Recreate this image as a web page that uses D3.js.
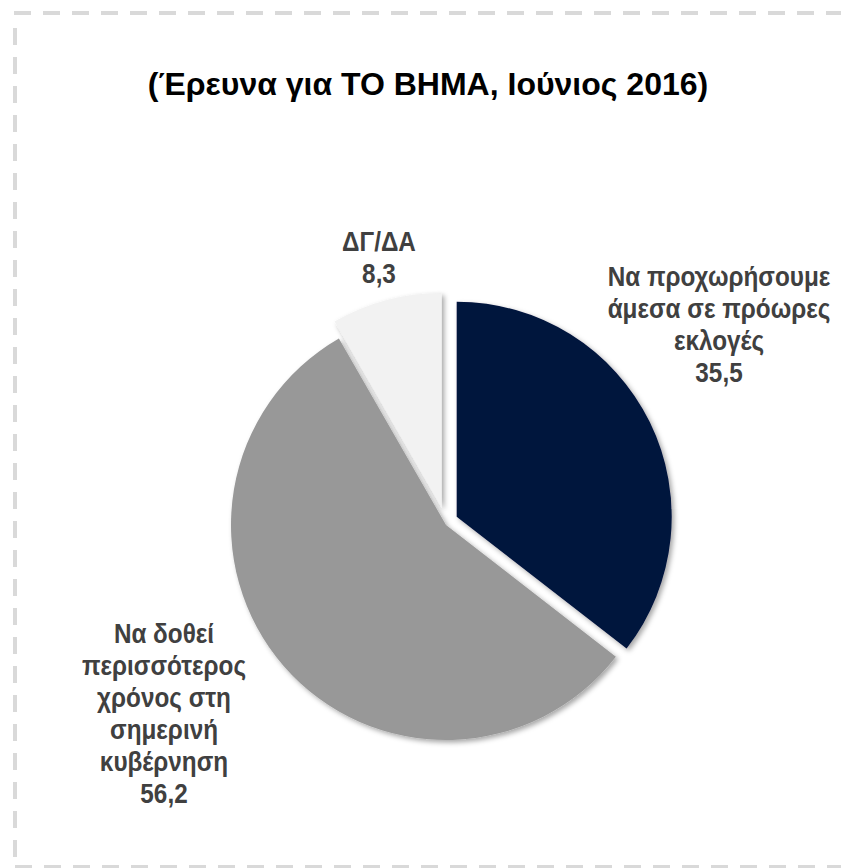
<!DOCTYPE html>
<html>
<head>
<meta charset="utf-8">
<script src="https://cdn.jsdelivr.net/npm/d3@7"></script>
<style>
  html, body { margin: 0; padding: 0; background: #fff; }
  svg { display: block; }
</style>
</head>
<body>
<svg id="chart" width="841" height="868"></svg>
<script>
const title = "(Έρευνα για ΤΟ ΒΗΜΑ, Ιούνιος 2016)";
const categories = [
    "Να προχωρήσουμε άμεσα σε πρόωρες εκλογές",
    "Να δοθεί περισσότερος χρόνος στη σημερινή κυβέρνηση",
    "ΔΓ/ΔΑ"
];
const labelLines = [
    ["Να προχωρήσουμε", "άμεσα σε πρόωρες", "εκλογές"],
    ["Να δοθεί", "περισσότερος", "χρόνος στη", "σημερινή", "κυβέρνηση"],
    ["ΔΓ/ΔΑ"]
];
const values = [35.5, 56.2, 8.3];
const colors = ["#00133d", "#989898", "#f2f2f2"];

const center = { x: 450, y: 517 };
const radius = 215;
const explode = [{ dx: 6.7, dy: -0.3 }, { dx: -4, dy: 8 }, { dx: -8.3, dy: -9 }];
const labelCenter = [{ x: 719, y: 324 }, { x: 164, y: 713 }, { x: 379, y: 257 }];
const lineHeight = 32;
const labelSqueeze = 0.9;

let svg = d3.select("#chart");

let defs = svg.append("defs");
let filter = defs.append("filter")
    .attr("id", "shadow")
    .attr("x", "-20%").attr("y", "-20%")
    .attr("width", "140%").attr("height", "140%");
filter.append("feDropShadow")
    .attr("dx", 2.5).attr("dy", 2.5)
    .attr("stdDeviation", 2.5)
    .attr("flood-color", "#000")
    .attr("flood-opacity", 0.35);

// dashed frame
const frame = { left: 15, top: 13, bottom: 867, right: 860 };
let dash = svg.append("g")
    .attr("stroke", "#d9d9d9")
    .attr("stroke-width", 4)
    .attr("stroke-dasharray", "17,12");
dash.append("line").attr("x1", frame.left - 1).attr("y1", frame.top).attr("x2", frame.right).attr("y2", frame.top);
dash.append("line").attr("x1", frame.left).attr("y1", frame.top + 15).attr("x2", frame.left).attr("y2", frame.bottom);
dash.append("line").attr("x1", frame.left).attr("y1", frame.bottom).attr("x2", frame.right).attr("y2", frame.bottom);

svg.append("text")
    .attr("x", 428)
    .attr("y", 95)
    .attr("text-anchor", "middle")
    .style("font-family", "Arial, 'Liberation Sans', sans-serif")
    .style("font-weight", "bold")
    .style("font-size", "32px")
    .style("fill", "#000")
    .text(title);

const pie = d3.pie().sort(null).value(d => d);
const arcs = pie(values);
const arc = d3.arc().innerRadius(0).outerRadius(radius);

svg.append("g")
    .attr("transform", `translate(${center.x}, ${center.y})`)
    .selectAll("path")
    .data(arcs)
    .enter()
    .append("path")
    .attr("d", arc)
    .attr("transform", (d, i) => `translate(${explode[i].dx}, ${explode[i].dy})`)
    .attr("fill", (d, i) => colors[i])
    .attr("filter", "url(#shadow)");

const fmt = v => d3.format(".1f")(v).replace(".", ",");

arcs.forEach((d, i) => {
    const lines = labelLines[i].concat([fmt(values[i])]);
    const top = labelCenter[i].y - (lines.length - 1) * lineHeight / 2;
    let t = svg.append("text")
        .attr("transform", `translate(${labelCenter[i].x}, 0) scale(${labelSqueeze}, 1)`)
        .attr("text-anchor", "middle")
        .style("font-family", "'Liberation Sans Narrow', 'Arial Narrow', 'Liberation Sans', sans-serif")
        .style("font-weight", "bold")
        .style("font-size", "27px")
        .style("fill", "#404040");
    lines.forEach((line, k) => {
        t.append("tspan")
            .attr("x", 0)
            .attr("y", top + k * lineHeight + 10)
            .text(line);
    });
});
</script>
</body>
</html>
